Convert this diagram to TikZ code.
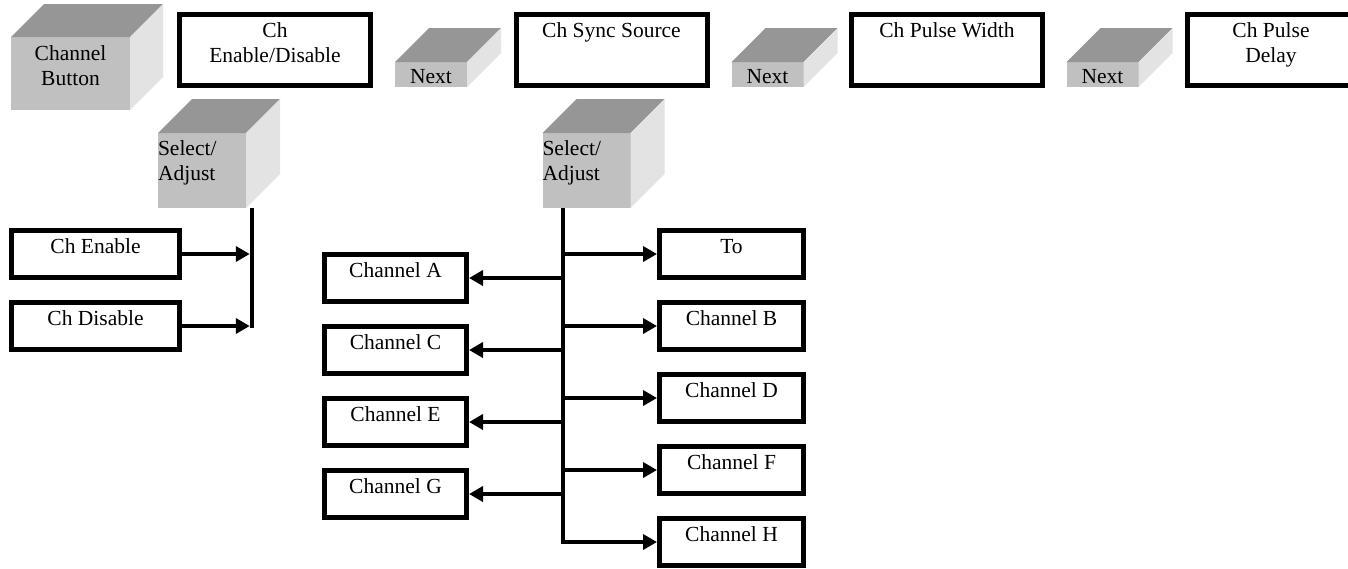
\documentclass[tikz,border=0pt]{standalone}
\usepackage{fontspec}
\setmainfont{Liberation Serif}
\usetikzlibrary{arrows.meta}

\definecolor{cubefront}{RGB}{192,192,192}
\definecolor{cubetop}{RGB}{150,150,150}
\definecolor{cubeside}{RGB}{227,227,227}

\tikzset{
    box/.style={draw, line width=5pt, inner xsep=2pt, inner ysep=8pt,
            text height=14.5pt, text depth=16.5pt, align=center},
    tallbox/.style={box, minimum width=191pt, text depth=40.5pt},
    twoline/.style={text height=40pt, text depth=15pt},
    chbox/.style={box, minimum width=142pt},
    cube/.style={fill=cubefront, inner sep=0pt, outer sep=0pt, align=center},
    wire/.style={line width=4.5pt},
    arr/.style={wire, -{Triangle[length=14pt,width=15pt]}},
}

\begin{document}
\begin{tikzpicture}[x=1pt,y=-1pt,font=\fontsize{21.5}{25.5}\selectfont]
    \useasboundingbox (0,0) rectangle (1348,568);

    % menu boxes
    \node[tallbox, twoline] (ched) at (275,50) {Ch\\Enable/Disable};
    \node[tallbox] (sync) at (611.5,50) {Ch Sync Source};
    \node[tallbox] (width) at (947,50) {Ch Pulse Width};
    \node[tallbox, twoline, minimum width=168pt] (delay) at (1271,50) {Ch Pulse\\Delay};

    % buttons
    \node[cube, minimum width=119pt, minimum height=73pt,
        text height=48.5pt, text depth=24.5pt] (chbtn) at (70.5,73.5) {Channel\\Button};
    \begin{scope}[every node/.append style={minimum width=72pt, minimum height=25pt,
                text height=21pt, text depth=4pt}]
        \node[cube] (nextA) at (431,74.5) {Next};
        \node[cube] (nextB) at (767.5,74.5) {Next};
        \node[cube] (nextC) at (1102.5,74.5) {Next};
    \end{scope}
    \begin{scope}[every node/.append style={text width=88pt, inner xsep=4pt,
                minimum height=75pt, text height=22pt, text depth=53pt}]
        \node[cube, align=left] (selA) at (202,170.5) {Select/\\Adjust};
        \node[cube, align=left] (selB) at (586.5,170.5) {Select/\\Adjust};
    \end{scope}
    \foreach \n/\d in {chbtn/33,nextA/34,nextB/34,nextC/34,selA/34,selB/34} {
            \fill[cubetop] (\n.north west) -- (\n.north east) -- ++(\d,-\d)
                -- ([shift={(\d,-\d)}]\n.north west) -- cycle;
            \fill[cubeside] (\n.north east) -- ++(\d,-\d)
                -- ([shift={(\d,-\d)}]\n.south east) -- (\n.south east) -- cycle;
        }

    % enable / disable
    \node[box, minimum width=168pt] (chen) at (95.5,254) {Ch Enable};
    \node[box, minimum width=168pt] (chdis) at (95.5,326) {Ch Disable};
    \coordinate (jA) at (252,326);
    \draw[wire, shorten >=-2.25pt] (jA |- selA.south) -- (jA);
    \begin{scope}[arr, shorten >=2.25pt]
        \draw (chen.east) -- (jA |- chen.east);
        \draw (chdis.east) -- (jA);
    \end{scope}

    % sync source
    \foreach \n/\y in {A/278,C/350,E/422,G/494} {
            \node[chbox] (ch\n) at (395.5,\y) {Channel \n};
        }
    \node[chbox, minimum width=144pt] (chTo) at (731.5,254) {To};
    \foreach \n/\y in {B/326,D/398,F/470,H/542} {
            \node[chbox, minimum width=144pt] (ch\n) at (731.5,\y) {Channel \n};
        }
    \coordinate (jB) at (563,542);
    \draw[arr] (jB |- selB.south) -- (jB) -- (chH.west);
    \foreach \n in {To,B,D,F} {
            \draw[arr] (jB |- ch\n.west) -- (ch\n.west);
        }
    \foreach \n in {A,C,E,G} {
            \draw[arr] (jB |- ch\n.east) -- (ch\n.east);
        }
\end{tikzpicture}
\end{document}
